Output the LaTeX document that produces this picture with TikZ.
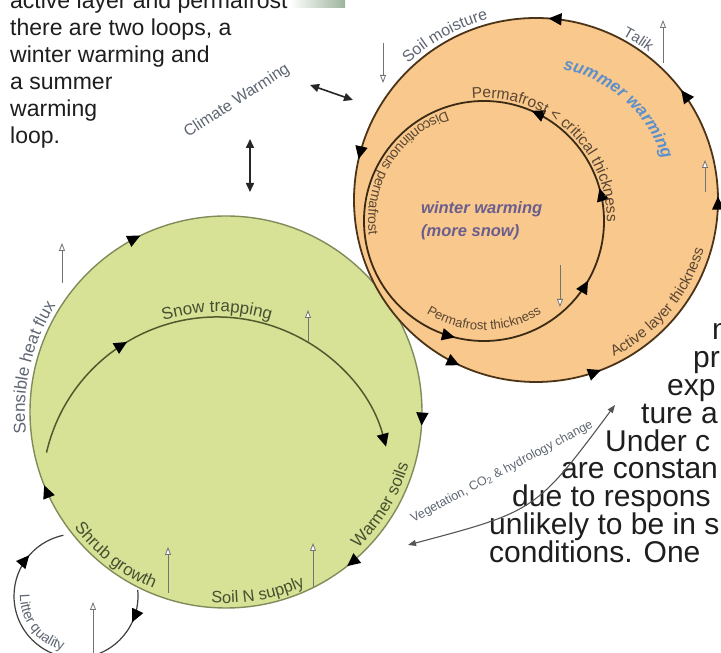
\documentclass[tikz,border=0pt]{standalone}
\usepackage{fontspec}
\setmainfont{Liberation Sans}
\usetikzlibrary{arrows.meta,decorations.markings,decorations.text}
\definecolor{orfill}{HTML}{F9C88C}
\definecolor{orline}{HTML}{4B3418}
\definecolor{orinline}{HTML}{3B2A14}
\definecolor{grfill}{HTML}{D7E297}
\definecolor{grline}{HTML}{7F8C5A}
\definecolor{grarc}{HTML}{505A2C}
\definecolor{labgray}{HTML}{5E6672}
\definecolor{labbrown}{HTML}{5A4632}
\definecolor{labgreen}{HTML}{465030}
\definecolor{wintc}{HTML}{6A5E8E}
\definecolor{sumc}{HTML}{5D8FCB}
\definecolor{textc}{HTML}{1E1E1E}
\definecolor{boxgr}{HTML}{9DB39D}
\definecolor{veggray}{HTML}{555555}
\tikzset{
  bigtri/.tip={Triangle[length=13pt,width=12pt,color=black]},
  smalltri/.tip={Triangle[length=9pt,width=8pt]},
  whitetip/.tip={Triangle[length=8pt,width=6pt,fill=white]},
  orstroke/.style={draw=orline,line width=1.8pt},
  orinstroke/.style={draw=orinline,line width=1.8pt},
  grstroke/.style={draw=grline,line width=1.4pt},
  grarcstroke/.style={draw=grarc,line width=1.5pt},
  litstroke/.style={draw=black!75,line width=1.2pt},
  indic/.style={draw=black!55,line width=0.8pt,-whitetip},
  blackdbl/.style={draw=black!85,line width=1.6pt,smalltri-smalltri},
  vegarrow/.style={draw=veggray,line width=1.1pt,{Triangle[length=8pt,width=6pt]}-{Triangle[length=8pt,width=6pt]}},
  bodytext/.style={anchor=base west,inner sep=0pt,text=textc,font=\fontsize{23}{27}\selectfont},
  bigbody/.style={anchor=base west,inner sep=0pt,text=textc,font=\fontsize{30}{30}\selectfont},
  marks/.style={postaction={decorate,decoration={markings,#1}}}
}
\newcommand\arclabel[6]{\path[decorate,decoration={text along path,text align=center,text={|#5|#6}}] (#1) ++(#3:#2) arc[start angle=#3,end angle=#4,radius=#2];}
\begin{document}
\begin{tikzpicture}[x=1pt,y=1pt]
\useasboundingbox (0,0) rectangle (721,653);
\fill[white] (0,0) rectangle (721,653);
\clip (0,0) rectangle (721,653);

% centres
\coordinate (O) at (536,453);
\coordinate (I) at (484,432);
\coordinate (G) at (226,241);
\coordinate (C2) at (217,161);
\coordinate (L) at (76,57);

% top-left body text
\shade[left color=white,right color=boxgr] (290,645) rectangle (345,653);
\node[bodytext] (t0) at (10,644) {active layer and permafrost};
\node[bodytext] (t1) at (10,617) {there are two loops, a};
\node[bodytext] (t2) at (10,590) {winter warming and};
\node[bodytext] (t3) at (10,563) {a summer};
\node[bodytext] (t4) at (10,536) {warming};
\node[bodytext] (t5) at (10,509) {loop.};

% right body text
\node[bigbody] (r1) at (712,313) {n};
\node[bigbody] (r2) at (693,285) {pr};
\node[bigbody] (r3) at (667,257) {exp};
\node[bigbody] (r4) at (641,229) {ture a};
\node[bigbody] (r5) at (605,201) {Under c};
\node[bigbody] (r6) at (561,174) {are constan};
\node[bigbody] (r7) at (512,146) {due to respons};
\node[bigbody] (r8) at (489,118) {unlikely to be in s};
\node[bigbody] (r9) at (489,90) {conditions. One};

% ---------------- green (shrub) loop ----------------
\fill[grfill] (G) circle[radius=196pt];
\draw[grstroke,marks={mark=at position 0.011 with {\arrow{bigtri}},mark=at position 0.144 with {\arrow{bigtri}},mark=at position 0.439 with {\arrow{bigtri}},mark=at position 0.678 with {\arrow{bigtri}}}]
  (G) ++(0:196pt) arc[start angle=0,end angle=-360,radius=196pt];
\draw[grarcstroke,-bigtri,marks={mark=at position 0.303 with {\arrow{bigtri}}}]
  (C2) ++(167:175pt) arc[start angle=167,end angle=15,radius=175pt];
\draw[litstroke,marks={mark=at position 0.116 with {\arrow{bigtri}},mark=at position 0.859 with {\arrow{bigtri}}}]
  (L) ++(5.6:62pt) arc[start angle=5.6,end angle=-258.3,radius=62pt];

\arclabel{C2}{180pt}{125}{55}{\fontsize{17}{17}\selectfont\color{labgreen}}{Snow trapping}
\arclabel{G}{201pt}{200}{134}{\fontsize{17}{17}\selectfont\color{labgray}}{Sensible heat flux}
\arclabel{G}{191pt}{205}{260}{\fontsize{17}{17}\selectfont\color{labgreen}}{Shrub growth}
\arclabel{G}{191pt}{255}{305}{\fontsize{16.5}{16.5}\selectfont\color{labgreen}}{Soil N supply}
\arclabel{G}{190pt}{305}{353}{\fontsize{17}{17}\selectfont\color{labgreen}}{Warmer soils}
\arclabel{L}{56pt}{160}{275}{\fontsize{14}{14}\selectfont\color{labgray}}{Litter quality}

% ---------------- orange (permafrost) loops ----------------
\fill[orfill] (O) circle[radius=182pt];
\draw[orstroke,marks={mark=at position 0.003 with {\arrow{bigtri}},mark=at position 0.103 with {\arrow{bigtri}},mark=at position 0.239 with {\arrow{bigtri}},mark=at position 0.464 with {\arrow{bigtri}},mark=at position 0.681 with {\arrow{bigtri}},mark=at position 0.808 with {\arrow{bigtri}}}]
  (O) ++(0:182pt) arc[start angle=0,end angle=360,radius=182pt];
\draw[orinstroke,marks={mark=at position 0.044 with {\arrow{bigtri}},mark=at position 0.185 with {\arrow{bigtri}},mark=at position 0.711 with {\arrow{bigtri}},mark=at position 0.917 with {\arrow{bigtri}}}]
  (I) ++(0:120pt) arc[start angle=0,end angle=360,radius=120pt];

\arclabel{O}{187pt}{160}{78}{\fontsize{16}{16}\selectfont\color{labgray}}{Soil moisture}
\arclabel{O}{186pt}{80}{35}{\fontsize{15}{15}\selectfont\color{labgray}}{Talik}
\arclabel{O}{133pt}{100}{-4}{\fontsize{17}{17}\selectfont\bfseries\itshape\color{sumc}}{summer warming}
\arclabel{O}{175pt}{280}{360}{\fontsize{15}{15}\selectfont\color{labbrown}}{Active layer thickness}
\arclabel{I}{123pt}{110}{-15}{\fontsize{15.5}{15.5}\selectfont\color{labbrown}}{Permafrost < critical thickness}
\arclabel{I}{116pt}{95}{201}{\fontsize{14}{14}\selectfont\color{labbrown}}{Discontinuous permafrost}
\arclabel{I}{109pt}{225}{315}{\fontsize{13}{13}\selectfont\color{labbrown}}{Permafrost thickness}

\node[anchor=base west,inner sep=0pt,text=wintc,font=\fontsize{16.5}{16.5}\selectfont\bfseries\itshape] (ww1) at (421,439) {winter warming};
\node[anchor=base west,inner sep=0pt,text=wintc,font=\fontsize{16.5}{16.5}\selectfont\bfseries\itshape] (ww2) at (421,416) {(more snow)};

% ---------------- up / down indicators ----------------
\coordinate (smA) at (383,610); \coordinate (smB) at (383,570);
\coordinate (tkA) at (663,590); \coordinate (tkB) at (663,633);
\coordinate (alA) at (705,461); \coordinate (alB) at (705,493);
\coordinate (ptA) at (560,388); \coordinate (ptB) at (560,346);
\coordinate (shA) at (62,370);  \coordinate (shB) at (62,410);
\coordinate (stA) at (308,311); \coordinate (stB) at (308,343);
\coordinate (sgA) at (168,60);  \coordinate (sgB) at (168,106);
\coordinate (snA) at (313,66);  \coordinate (snB) at (313,110);
\coordinate (lqA) at (93,0);    \coordinate (lqB) at (93,51);
\foreach \a/\b in {smA/smB,tkA/tkB,alA/alB,ptA/ptB,shA/shB,stA/stB,sgA/sgB,snA/snB,lqA/lqB}
  \draw[indic] (\a) -- (\b);

% ---------------- climate warming ----------------
\node[rotate=33,font=\fontsize{16}{16}\selectfont,text=labgray] (cwlabel) at (237,552) {Climate Warming};
\coordinate (cw1) at (310,568); \coordinate (cw2) at (353,553);
\draw[blackdbl] (cw1) -- (cw2);
\coordinate (cv1) at (250,514); \coordinate (cv2) at (250,461);
\draw[blackdbl] (cv1) -- (cv2);

% ---------------- vegetation arrow ----------------
\coordinate (v1) at (408,108); \coordinate (vc) at (536,142); \coordinate (v2) at (615,248);
\draw[vegarrow] (v1) .. controls (vc) .. (v2);
\node[rotate=28,font=\fontsize{12.5}{12.5}\selectfont,text=labgray] (veglab) at (502,181) {Vegetation, CO\textsubscript{2} \& hydrology change};
\end{tikzpicture}
\end{document}
